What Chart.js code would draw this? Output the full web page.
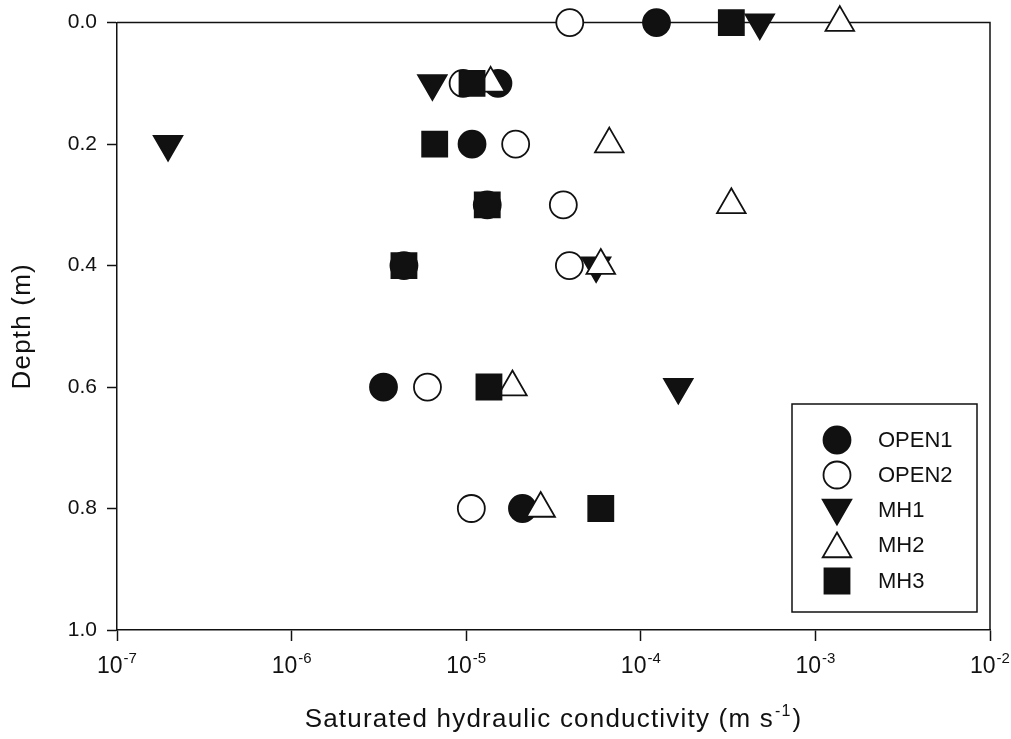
<!DOCTYPE html>
<html>
<head>
<meta charset="utf-8">
<script src="https://cdn.jsdelivr.net/npm/chart.js@4.4.1/dist/chart.umd.min.js"></script>
<style>
  html, body { margin: 0; padding: 0; background: #fff; }
  #wrap { width: 1011px; height: 739px; }
</style>
</head>
<body>
<div id="wrap"><canvas id="chart" width="1011" height="739"></canvas></div>
<script>
// Depth (m) of each measurement row
const DEPTHS = [0.0, 0.1, 0.2, 0.3, 0.4, 0.6, 0.8];

// Saturated hydraulic conductivity (m s-1), null = no point shown
const OPEN1 = [1.23e-4, 1.52e-5, 1.08e-5, 1.32e-5, 4.4e-6, 3.36e-6, 2.1e-5];
const OPEN2 = [3.92e-5, 9.6e-6, 1.92e-5, 3.6e-5, 3.9e-5, 6.0e-6, 1.07e-5];
const MH1 = [4.8e-4, 6.4e-6, 1.96e-7, null, 5.55e-5, 1.64e-4, null];
const MH2 = [1.38e-3, 1.38e-5, 6.6e-5, 3.3e-4, 5.9e-5, 1.84e-5, 2.67e-5];
const MH3 = [3.3e-4, 1.08e-5, 6.6e-6, 1.32e-5, 4.4e-6, 1.35e-5, 5.9e-5];

const SERIES_NAMES = ['OPEN1', 'OPEN2', 'MH1', 'MH2', 'MH3'];
const SERIES_VALUES = [OPEN1, OPEN2, MH1, MH2, MH3];

// axis ticks
const X_TICKS = [1e-7, 1e-6, 1e-5, 1e-4, 1e-3, 1e-2];
const X_TICK_EXPONENTS = ['-7', '-6', '-5', '-4', '-3', '-2'];
const Y_TICKS = [0.0, 0.2, 0.4, 0.6, 0.8, 1.0];

const X_TITLE = 'Saturated hydraulic conductivity (m s';
const X_TITLE_SUP = '-1';
const Y_TITLE = 'Depth (m)';

const FONT = "'Liberation Sans', Arial, Helvetica, sans-serif";
Chart.defaults.font.family = FONT;
Chart.defaults.color = '#111';

// marker look per series
const markerStyles = [
  { pointStyle: 'circle', radius: 13.5, rotation: 0, fill: '#111' },
  { pointStyle: 'circle', radius: 13.5, rotation: 0, fill: '#fff' },
  { pointStyle: 'triangle', radius: 16.5, rotation: 180, fill: '#111' },
  { pointStyle: 'triangle', radius: 16.5, rotation: 0, fill: '#fff' },
  { pointStyle: 'rect', radius: 17.7, rotation: 0, fill: '#111' },
];

const datasets = SERIES_NAMES.map((name, i) => {
  const vals = SERIES_VALUES[i];
  const pts = [];
  DEPTHS.forEach((d, j) => {
    if (vals[j] !== null) pts.push({ x: vals[j], y: d });
  });
  const m = markerStyles[i];
  return {
    label: name,
    data: pts,
    pointStyle: m.pointStyle,
    pointRadius: m.radius,
    pointRotation: m.rotation,
    pointBackgroundColor: m.fill,
    pointBorderColor: '#111',
    pointBorderWidth: 1.8,
    showLine: false,
    clip: false,
    order: SERIES_NAMES.length - i, // later series drawn on top
  };
});

// top and right edges of the frame, drawn under the markers
const framePlugin = {
  id: 'frame',
  beforeDatasetsDraw(chart) {
    const ctx = chart.ctx;
    const a = chart.chartArea;
    ctx.save();
    ctx.strokeStyle = '#111';
    ctx.lineWidth = 1.5;
    ctx.beginPath();
    ctx.moveTo(a.left, a.top);
    ctx.lineTo(a.right, a.top);
    ctx.lineTo(a.right, a.bottom);
    ctx.stroke();
    ctx.restore();
  }
};

// x tick labels with superscripts, axis titles and boxed legend
const textPlugin = {
  id: 'texts',
  afterDraw(chart) {
    const ctx = chart.ctx;
    const a = chart.chartArea;
    const xs = chart.scales.x;
    ctx.save();
    ctx.fillStyle = '#111';
    ctx.textBaseline = 'alphabetic';
    ctx.textAlign = 'left';

    // x tick labels "10^n"
    X_TICKS.forEach((v, i) => {
      const px = xs.getPixelForValue(v);
      ctx.font = '23px ' + FONT;
      const wBase = ctx.measureText('10').width;
      ctx.font = '15px ' + FONT;
      const wExp = ctx.measureText(X_TICK_EXPONENTS[i]).width;
      const x0 = px - (wBase + wExp + 1) / 2;
      ctx.font = '23px ' + FONT;
      ctx.fillText('10', x0, a.bottom + 43);
      ctx.font = '15px ' + FONT;
      ctx.fillText(X_TICK_EXPONENTS[i], x0 + wBase + 1, a.bottom + 33);
    });

    // x axis title
    if ('letterSpacing' in ctx) ctx.letterSpacing = '1.2px';
    ctx.font = '26px ' + FONT;
    const wMain = ctx.measureText(X_TITLE).width;
    ctx.font = '16px ' + FONT;
    const wSup = ctx.measureText(X_TITLE_SUP).width;
    ctx.font = '26px ' + FONT;
    const wClose = ctx.measureText(')').width;
    let tx = (a.left + a.right) / 2 - (wMain + wSup + wClose + 2) / 2;
    const tBase = a.bottom + 97;
    ctx.fillText(X_TITLE, tx, tBase);
    tx += wMain + 1;
    ctx.font = '16px ' + FONT;
    ctx.fillText(X_TITLE_SUP, tx, tBase - 11);
    tx += wSup + 1;
    ctx.font = '26px ' + FONT;
    ctx.fillText(')', tx, tBase);

    // y axis title
    ctx.save();
    ctx.translate(23, (a.top + a.bottom) / 2);
    ctx.rotate(-Math.PI / 2);
    ctx.textAlign = 'center';
    ctx.textBaseline = 'middle';
    ctx.font = '26px ' + FONT;
    ctx.fillText(Y_TITLE, 0, 0);
    ctx.restore();
    if ('letterSpacing' in ctx) ctx.letterSpacing = '0px';

    // legend box
    const boxRight = a.right - 13;
    const boxBottom = a.bottom - 18;
    const boxW = 185;
    const boxH = 208;
    const bx = boxRight - boxW;
    const by = boxBottom - boxH;
    ctx.strokeStyle = '#111';
    ctx.lineWidth = 1.5;
    ctx.strokeRect(bx, by, boxW, boxH);

    const rowYs = [36, 71, 106, 141, 177];
    ctx.font = '22px ' + FONT;
    ctx.textBaseline = 'middle';
    SERIES_NAMES.forEach((name, i) => {
      const m = markerStyles[i];
      const cx = bx + 45;
      const cy = by + rowYs[i];
      ctx.fillStyle = m.fill;
      ctx.strokeStyle = '#111';
      ctx.lineWidth = 1.8;
      Chart.helpers.drawPoint(ctx, {
        pointStyle: m.pointStyle,
        radius: m.radius,
        rotation: m.rotation,
        borderWidth: 1.8
      }, cx, m.pointStyle === 'triangle' ? cy + (m.rotation ? -2 : 4) : cy);
      ctx.fillStyle = '#111';
      ctx.fillText(name, bx + 86, cy + 1);
    });
    ctx.restore();
  }
};

new Chart(document.getElementById('chart'), {
  type: 'scatter',
  data: { datasets: datasets },
  options: {
    responsive: false,
    animation: false,
    events: [],
    layout: { padding: { left: 0, top: 18, right: 21, bottom: 0 } },
    plugins: {
      legend: { display: false },
      tooltip: { enabled: false }
    },
    scales: {
      x: {
        type: 'logarithmic',
        position: 'bottom',
        min: X_TICKS[0],
        max: X_TICKS[X_TICKS.length - 1],
        afterBuildTicks: (scale) => {
          scale.ticks = X_TICKS.map(v => ({ value: v, major: true }));
        },
        afterFit: (scale) => { scale.height = 109; },
        ticks: { display: false },
        grid: {
          drawOnChartArea: false,
          drawTicks: true,
          tickLength: 11,
          tickWidth: 1.5,
          color: '#111'
        },
        border: { display: true, color: '#111', width: 1.5 },
        title: { display: false }
      },
      y: {
        type: 'linear',
        reverse: true,
        min: 0,
        max: 1,
        afterBuildTicks: (scale) => {
          scale.ticks = Y_TICKS.map(v => ({ value: v }));
        },
        afterFit: (scale) => { scale.width = 117; },
        ticks: {
          padding: 10,
          color: '#111',
          font: { size: 21 },
          callback: (v) => Number(v).toFixed(1)
        },
        grid: {
          drawOnChartArea: false,
          drawTicks: true,
          tickLength: 10,
          tickWidth: 1.5,
          color: '#111'
        },
        border: { display: true, color: '#111', width: 1.5 },
        title: { display: false }
      }
    }
  },
  plugins: [framePlugin, textPlugin]
});
</script>
</body>
</html>
